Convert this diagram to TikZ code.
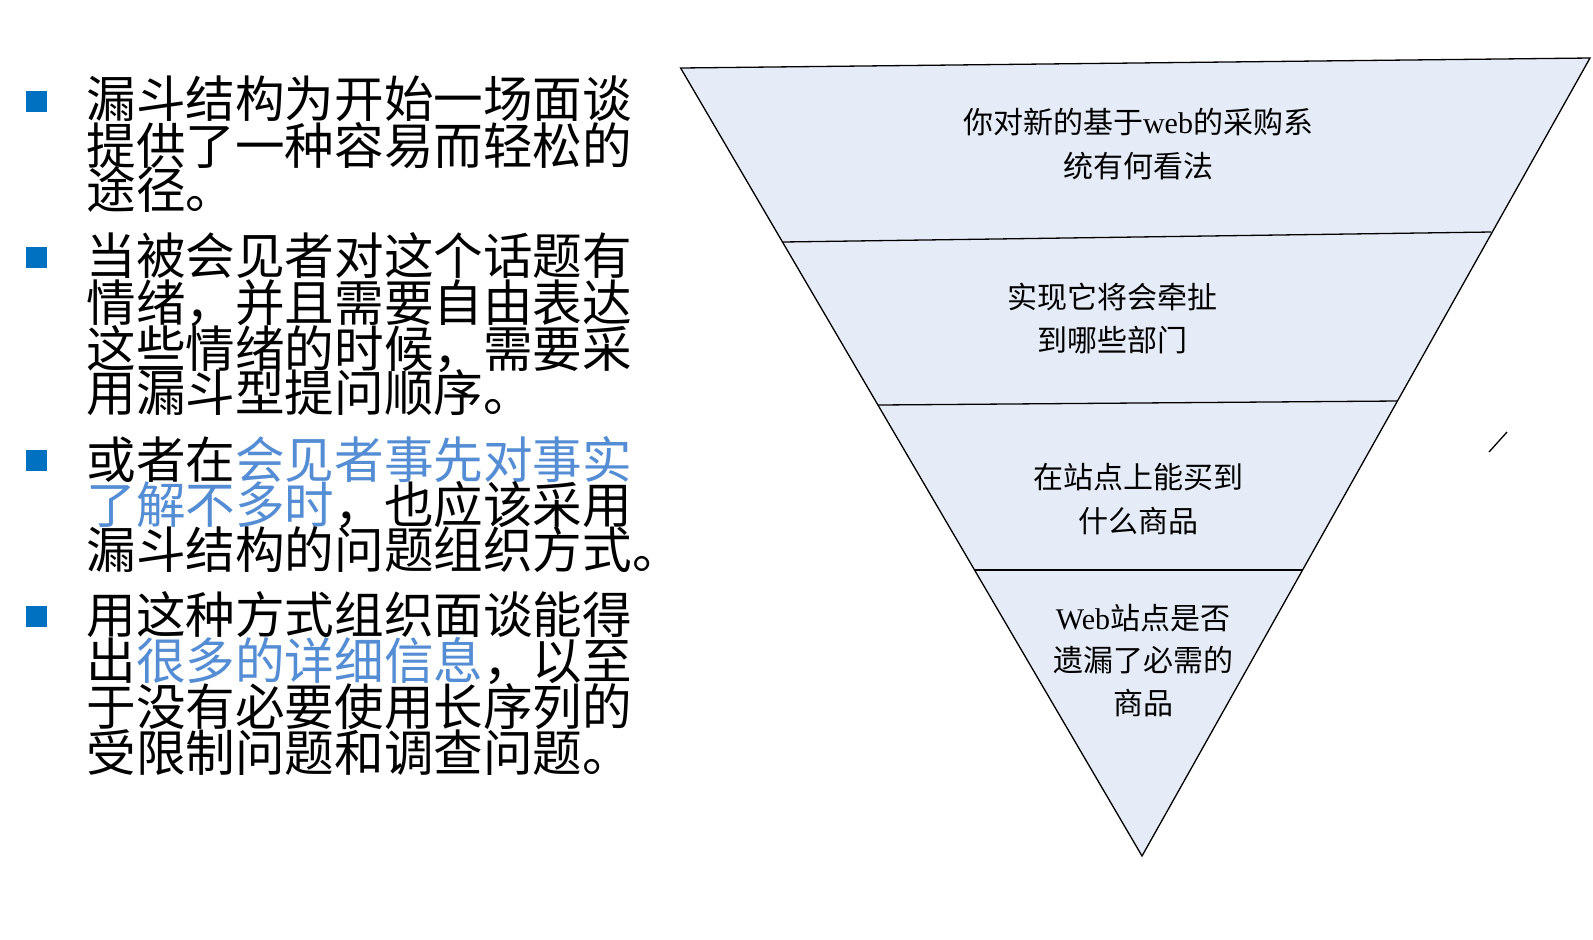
\documentclass[tikz,border=0pt]{standalone}
\usepackage{fontspec}
\setmainfont{Liberation Serif}
\newfontfamily\cjk{Noto Sans CJK SC}
\definecolor{funnel}{RGB}{230,236,247}
\definecolor{bulletblue}{RGB}{0,112,192}
\definecolor{hiblue}{RGB}{84,141,212}
\begin{document}
\begin{tikzpicture}[x=0.5pt,y=-0.5pt,
  lefttext/.style={anchor=west, inner sep=0pt, font=\cjk\fontsize{24.8}{24.8}\selectfont, text height=20.4pt, text depth=1.6pt},
  ftext/.style={anchor=center, inner sep=0pt, font=\fontsize{15}{15}\selectfont, text height=13.2pt, text depth=1.8pt},
  bulletsq/.style={fill=bulletblue, minimum size=10.5pt, inner sep=0pt, anchor=center},
  edge/.style={line width=0.65pt, black}]
\useasboundingbox (0,0) rectangle (1593,939);

% funnel
\coordinate (TL) at (680.6,68);
\coordinate (TR) at (1590,58);
\coordinate (B) at (1142,856);
\coordinate (d1l) at (782.5,242);
\coordinate (d1r) at (1491,232);
\coordinate (d2l) at (878,405);
\coordinate (d2r) at (1397,401);
\coordinate (d3l) at (974.5,570);
\coordinate (d3r) at (1302.6,570);
\fill[funnel] (TL) -- (TR) -- (B) -- cycle;
\draw[edge, line join=miter] (TL) -- (TR) -- (B) -- cycle;
\draw[edge] (d1l) -- (d1r);
\draw[edge] (d2l) -- (d2r);
\draw[edge] (d3l) -- (d3r);
\coordinate (s1) at (1489,452);
\coordinate (s2) at (1507,432);
\draw[edge] (s1) -- (s2);

% funnel texts
\node[ftext] (f1a) at (1138,122) {{\cjk 你对新的基于}web{\cjk 的采购系}};
\node[ftext] (f1b) at (1138,166) {\cjk 统有何看法};
\node[ftext] (f2a) at (1112,297) {\cjk 实现它将会牵扯};
\node[ftext] (f2b) at (1112,340) {\cjk 到哪些部门};
\node[ftext] (f3a) at (1138,477) {\cjk 在站点上能买到};
\node[ftext] (f3b) at (1138,521) {\cjk 什么商品};
\node[ftext] (f4a) at (1143,618) {Web{\cjk 站点是否}};
\node[ftext] (f4b) at (1143,660) {\cjk 遗漏了必需的};
\node[ftext] (f4c) at (1143,703) {\cjk 商品};

% bullets
\node[bulletsq] (b1) at (36,101) {};
\node[bulletsq] (b2) at (36,257) {};
\node[bulletsq] (b3) at (36,460) {};
\node[bulletsq] (b4) at (36,616) {};

% left texts
\node[lefttext] (l11) at (86,98.5) {漏斗结构为开始一场面谈};
\node[lefttext] (l12) at (86,145.3) {提供了一种容易而轻松的};
\node[lefttext] (l13) at (86,190) {途径。};
\node[lefttext] (l21) at (86,256) {当被会见者对这个话题有};
\node[lefttext] (l22) at (86,302.7) {情绪，并且需要自由表达};
\node[lefttext] (l23) at (86,348.5) {这些情绪的时候，需要采};
\node[lefttext] (l24) at (86,393) {用漏斗型提问顺序。};
\node[lefttext] (l31) at (86,460) {或者在\textcolor{hiblue}{会见者事先对事实}};
\node[lefttext] (l32) at (86,505) {\textcolor{hiblue}{了解不多时}，也应该采用};
\node[lefttext] (l33) at (86,549.6) {漏斗结构的问题组织方式。};
\node[lefttext] (l41) at (86,614.6) {用这种方式组织面谈能得};
\node[lefttext] (l42) at (86,660.3) {出\textcolor{hiblue}{很多的详细信息}，以至};
\node[lefttext] (l43) at (86,707) {于没有必要使用长序列的};
\node[lefttext] (l44) at (86,752.8) {受限制问题和调查问题。};
\end{tikzpicture}
\end{document}
